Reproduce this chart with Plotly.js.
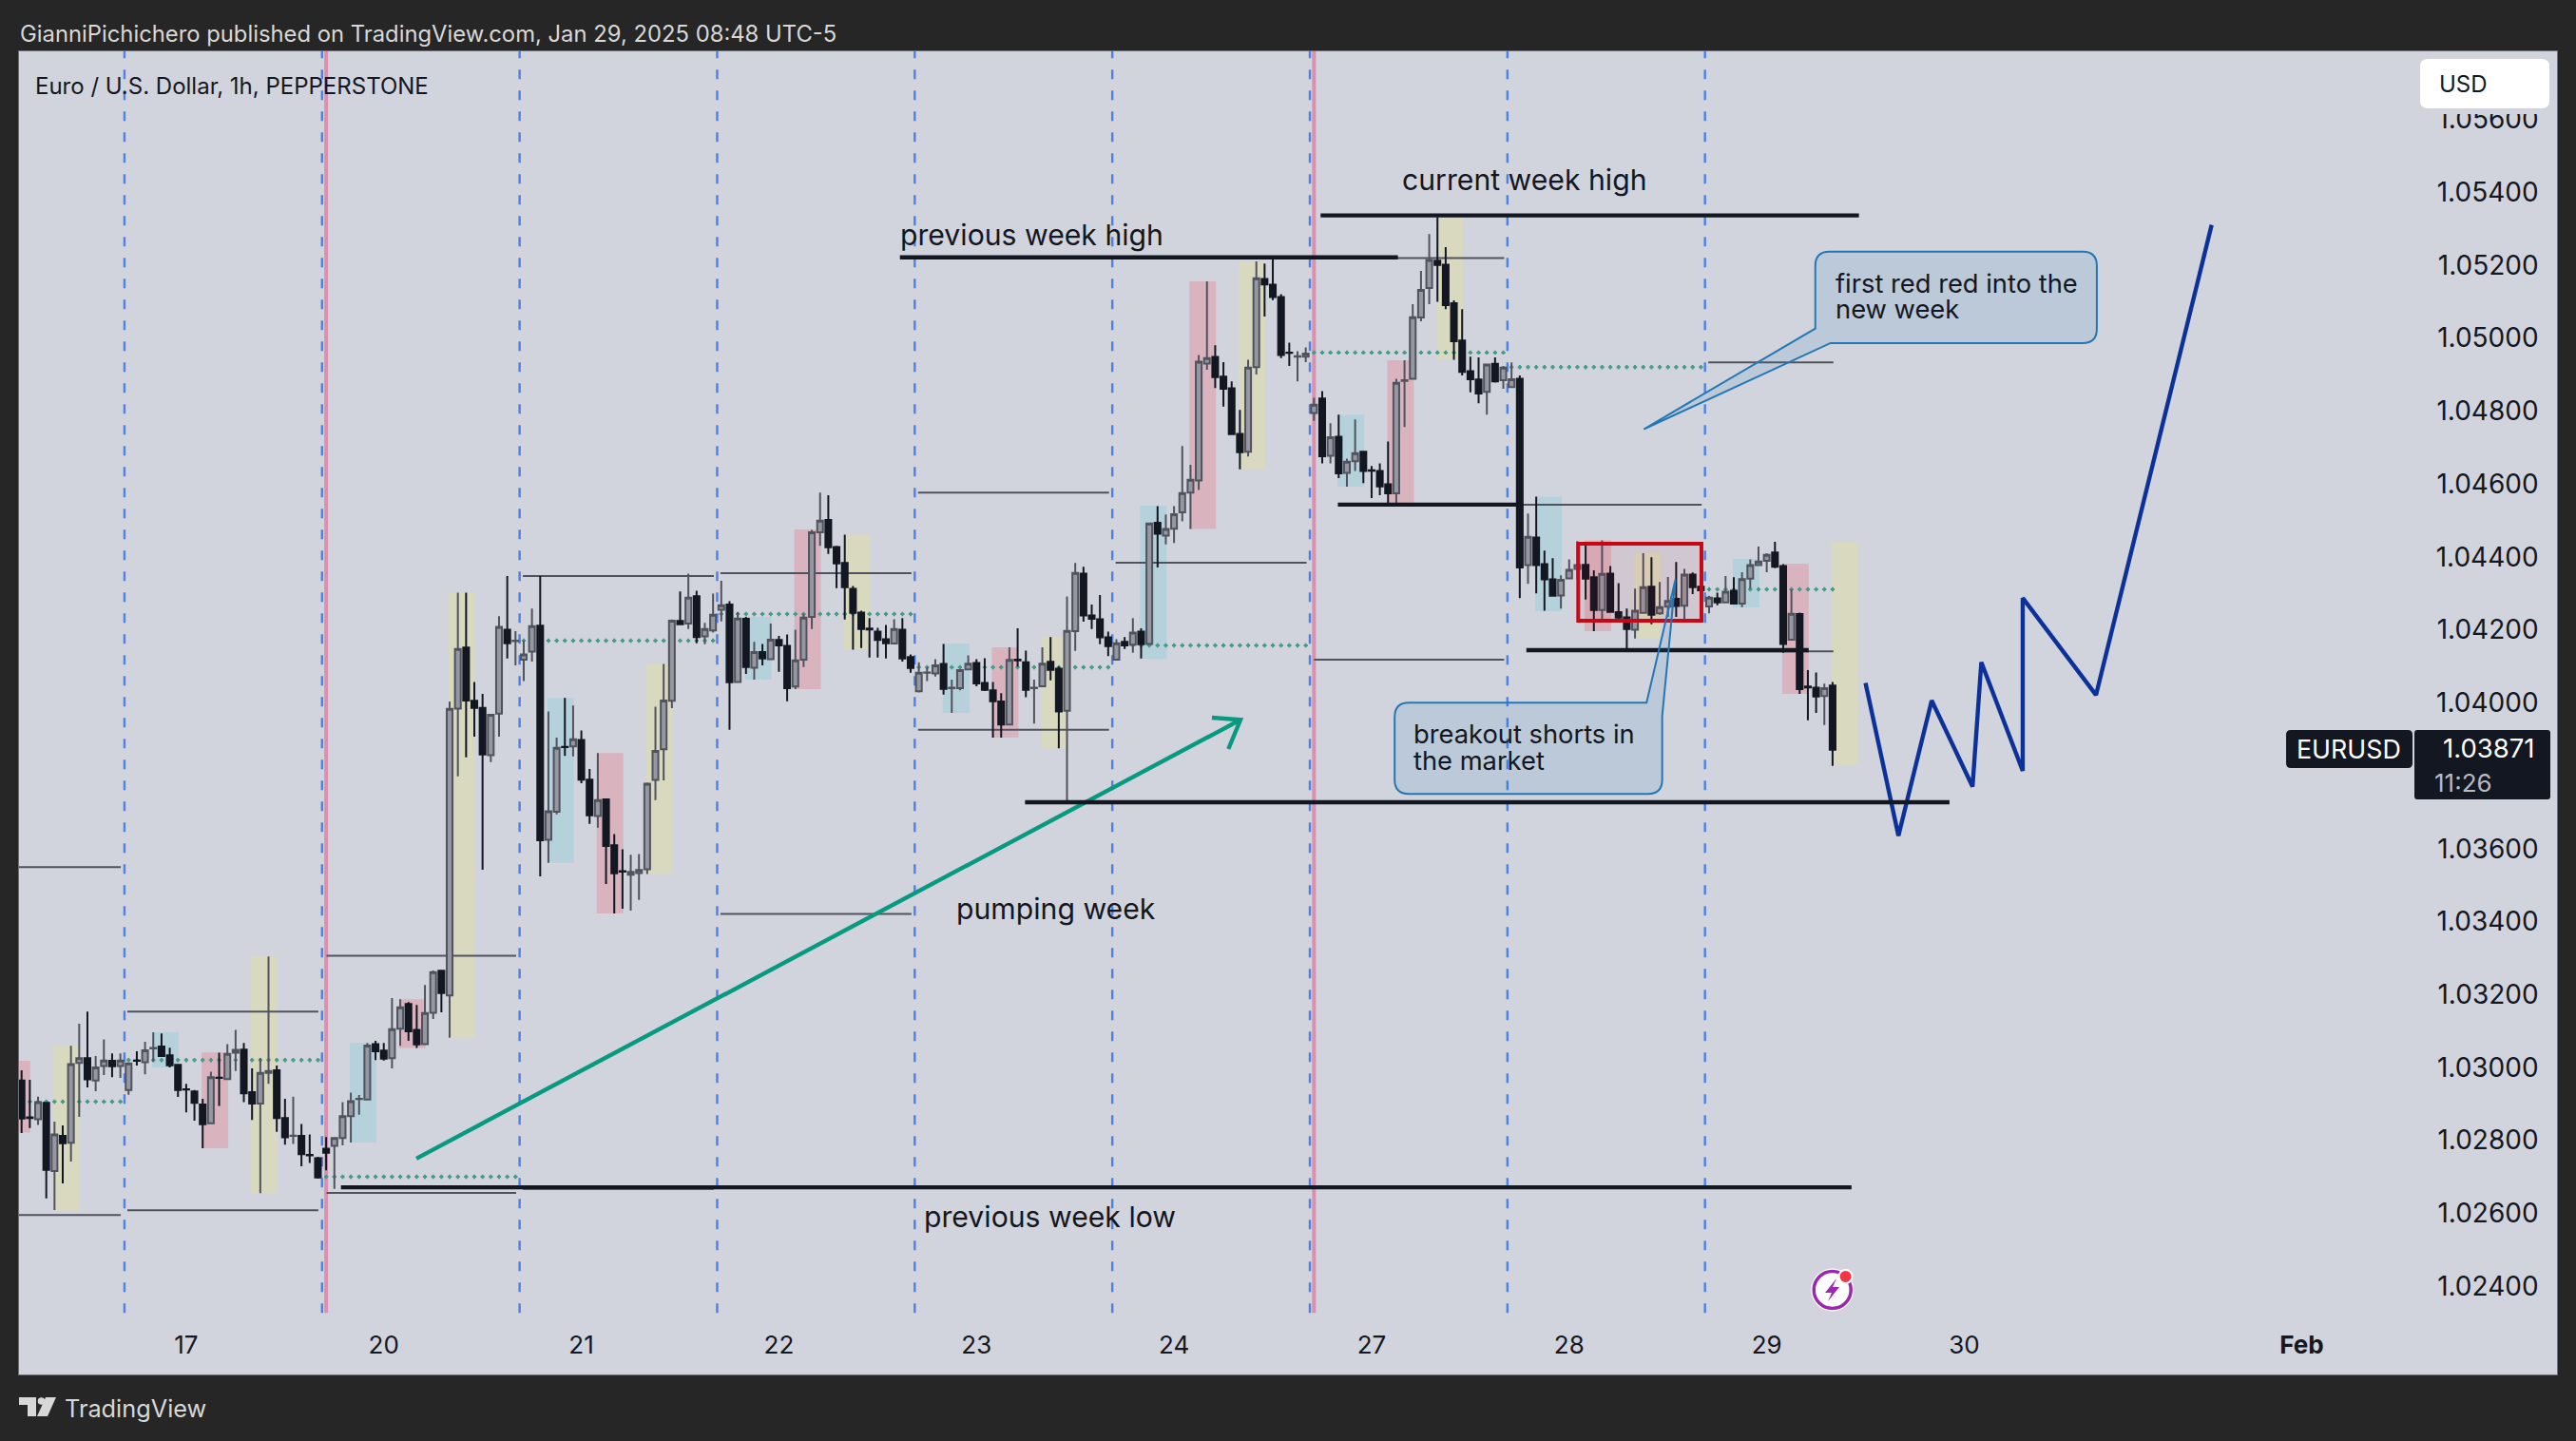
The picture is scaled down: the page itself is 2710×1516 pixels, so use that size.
<!DOCTYPE html>
<html>
<head>
<meta charset="utf-8">
<style>html,body{margin:0;padding:0;background:#262626;overflow:hidden}#chart{width:2710px;height:1516px}</style>
<script src="https://cdn.plot.ly/plotly-3.0.1.min.js"></script>
</head>
<body>
<div id="chart"></div>
<script>
const openP=[1.02964,1.02863,1.02858,1.02903,1.02716,1.02812,1.02793,1.03012,1.03025,1.02964,
1.03004,1.03018,1.03004,1.02938,1.03019,1.03014,1.03052,1.03057,1.03033,1.03007,
1.02940,1.02934,1.02898,1.02847,1.02972,1.02968,1.03040,1.03049,1.02932,1.02901,
1.02985,1.02992,1.02861,1.02812,1.02812,1.02760,1.02751,1.02777,1.02785,1.02806,
1.02866,1.02913,1.02912,1.03064,1.03046,1.03025,1.03106,1.03174,1.03103,1.03064,
1.03150,1.03265,1.03197,1.03984,1.04151,1.04005,1.03986,1.03856,1.03970,1.04200,
1.04169,1.04118,1.04140,1.04211,1.03624,1.03701,1.03879,1.03880,1.03898,1.03789,
1.03689,1.03735,1.03609,1.03538,1.03528,1.03533,1.03543,1.03788,1.03872,1.04005,
1.04224,1.04217,1.04292,1.04182,1.04198,1.04255,1.04269,1.04057,1.04230,1.04096,
1.04139,1.04119,1.04172,1.04156,1.04044,1.04118,1.04235,1.04467,1.04501,1.04427,
1.04383,1.04312,1.04247,1.04203,1.04195,1.04174,1.04162,1.04200,1.04125,1.04031,
1.04082,1.04080,1.04106,1.04040,1.04040,1.04091,1.04109,1.04054,1.04034,1.04003,
1.03940,1.04118,1.04111,1.04040,1.04045,1.04112,1.04093,1.03978,1.04196,1.04354,
1.04239,1.04229,1.04179,1.04118,1.04167,1.04159,1.04195,1.04161,1.04493,1.04458,
1.04477,1.04522,1.04576,1.04609,1.04930,1.04948,1.04894,1.04862,1.04737,1.04688,
1.04920,1.05162,1.05146,1.05112,1.04960,1.04949,1.04949,1.04794,1.04834,1.04677,
1.04729,1.04630,1.04662,1.04688,1.04637,1.04635,1.04599,1.04574,1.04882,1.04888,
1.05056,1.05137,1.05212,1.05201,1.05095,1.04993,1.04909,1.04886,1.04852,1.04929,
1.04884,1.04865,1.04888,1.04377,1.04453,1.04380,1.04338,1.04294,1.04341,1.04367,
1.04378,1.04344,1.04254,1.04354,1.04248,1.04234,1.04200,1.04246,1.04318,1.04245,
1.04263,1.04285,1.04266,1.04351,1.04318,1.04264,1.04286,1.04275,1.04307,1.04272,
1.04340,1.04377,1.04389,1.04412,1.04375,1.04173,1.04243,1.04044,1.04041,1.04018,
1.04047];
const highP=[1.02992,1.02966,1.02920,1.02905,1.02851,1.02841,1.03059,1.03120,1.03153,1.03031,
1.03077,1.03038,1.03038,1.03012,1.03044,1.03070,1.03096,1.03093,1.03054,1.03008,
1.02955,1.02938,1.02914,1.02988,1.03040,1.03064,1.03103,1.03067,1.02997,1.03025,
1.03304,1.03005,1.02914,1.02920,1.02845,1.02816,1.02755,1.02809,1.02807,1.02905,
1.02931,1.02924,1.03067,1.03073,1.03067,1.03190,1.03187,1.03179,1.03171,1.03226,
1.03266,1.03266,1.04003,1.04302,1.04302,1.04057,1.04024,1.03968,1.04237,1.04347,
1.04196,1.04170,1.04258,1.04347,1.03976,1.03904,1.04013,1.03992,1.03924,1.03818,
1.03862,1.03735,1.03640,1.03598,1.03583,1.03585,1.03781,1.03989,1.04106,1.04228,
1.04305,1.04354,1.04307,1.04219,1.04299,1.04334,1.04278,1.04248,1.04235,1.04167,
1.04161,1.04217,1.04183,1.04187,1.04200,1.04244,1.04474,1.04576,1.04569,1.04430,
1.04461,1.04320,1.04252,1.04232,1.04205,1.04213,1.04229,1.04232,1.04132,1.04111,
1.04098,1.04119,1.04161,1.04063,1.04092,1.04130,1.04119,1.04122,1.04057,1.04026,
1.04152,1.04204,1.04143,1.04063,1.04152,1.04180,1.04099,1.04291,1.04383,1.04373,
1.04269,1.04295,1.04195,1.04174,1.04180,1.04232,1.04204,1.04493,1.04539,1.04516,
1.04539,1.04704,1.04652,1.04953,1.05155,1.04980,1.04934,1.04881,1.04803,1.04940,
1.05210,1.05204,1.05223,1.05120,1.04987,1.04964,1.04974,1.04836,1.04854,1.04766,
1.04790,1.04669,1.04777,1.04690,1.04649,1.04656,1.04716,1.04888,1.04939,1.05093,
1.05184,1.05285,1.05331,1.05249,1.05103,1.05079,1.04949,1.04947,1.04929,1.04947,
1.04923,1.04933,1.04897,1.04519,1.04565,1.04417,1.04396,1.04349,1.04393,1.04443,
1.04432,1.04363,1.04445,1.04375,1.04328,1.04258,1.04313,1.04410,1.04399,1.04331,
1.04345,1.04386,1.04367,1.04357,1.04342,1.04293,1.04302,1.04347,1.04344,1.04358,
1.04393,1.04428,1.04410,1.04441,1.04380,1.04311,1.04247,1.04089,1.04083,1.04052,
1.04057];
const lowP=[1.02820,1.02834,1.02842,1.02641,1.02609,1.02682,1.02742,1.02864,1.02945,1.02935,
1.02979,1.02973,1.02971,1.02925,1.03005,1.02981,1.03016,1.03030,1.03000,1.02919,
1.02877,1.02854,1.02778,1.02846,1.02894,1.02966,1.02990,1.02905,1.02856,1.02655,
1.02955,1.02823,1.02788,1.02790,1.02729,1.02738,1.02695,1.02718,1.02667,1.02786,
1.02794,1.02870,1.02911,1.03020,1.03019,1.02997,1.03059,1.03073,1.03053,1.03063,
1.03133,1.03151,1.03081,1.03798,1.03850,1.03907,1.03542,1.03837,1.03907,1.04121,
1.04102,1.04059,1.04113,1.03524,1.03561,1.03694,1.03854,1.03853,1.03779,1.03668,
1.03657,1.03503,1.03422,1.03435,1.03430,1.03459,1.03530,1.03733,1.03787,1.03985,
1.04215,1.04202,1.04163,1.04160,1.04192,1.04223,1.03926,1.04056,1.04079,1.04063,
1.04102,1.04118,1.04085,1.04004,1.04037,1.04098,1.04202,1.04430,1.04408,1.04314,
1.04228,1.04145,1.04150,1.04124,1.04124,1.04121,1.04160,1.04113,1.04082,1.04028,
1.04059,1.04072,1.04022,1.03972,1.04034,1.04090,1.04045,1.04032,1.03904,1.03904,
1.03940,1.04099,1.04015,1.03943,1.04044,1.04061,1.03875,1.03729,1.04142,1.04222,
1.04202,1.04160,1.04128,1.04117,1.04147,1.04137,1.04121,1.04160,1.04371,1.04434,
1.04438,1.04497,1.04476,1.04583,1.04913,1.04863,1.04812,1.04736,1.04640,1.04675,
1.04900,1.05059,1.05104,1.04945,1.04923,1.04881,1.04934,1.04773,1.04656,1.04656,
1.04616,1.04592,1.04635,1.04602,1.04561,1.04569,1.04545,1.04545,1.04756,1.04887,
1.05046,1.05093,1.05099,1.05079,1.04940,1.04897,1.04851,1.04821,1.04790,1.04878,
1.04861,1.04864,1.04287,1.04326,1.04300,1.04252,1.04293,1.04258,1.04340,1.04338,
1.04283,1.04196,1.04228,1.04248,1.04228,1.04149,1.04176,1.04244,1.04215,1.04241,
1.04235,1.04235,1.04228,1.04298,1.04302,1.04245,1.04267,1.04273,1.04271,1.04262,
1.04313,1.04376,1.04358,1.04369,1.04137,1.04172,1.04024,1.03952,1.03972,1.03939,
1.03827];
const closeP=[1.02860,1.02861,1.02905,1.02719,1.02816,1.02792,1.03009,1.03025,1.02967,1.03000,
1.03019,1.03003,1.03019,1.03011,1.03018,1.03047,1.03053,1.03031,1.03006,1.02938,
1.02939,1.02903,1.02844,1.02973,1.02971,1.03037,1.03048,1.02929,1.02901,1.02985,
1.02990,1.02861,1.02808,1.02813,1.02762,1.02759,1.02698,1.02766,1.02806,1.02866,
1.02907,1.02914,1.03060,1.03044,1.03024,1.03105,1.03165,1.03099,1.03063,1.03149,
1.03261,1.03204,1.03983,1.04147,1.04006,1.03986,1.03858,1.03967,1.04208,1.04163,
1.04170,1.04132,1.04210,1.03623,1.03702,1.03876,1.03878,1.03900,1.03789,1.03691,
1.03733,1.03607,1.03532,1.03537,1.03536,1.03541,1.03778,1.03868,1.04006,1.04225,
1.04215,1.04288,1.04180,1.04202,1.04241,1.04267,1.04056,1.04231,1.04098,1.04139,
1.04121,1.04173,1.04157,1.04040,1.04116,1.04233,1.04467,1.04499,1.04426,1.04382,
1.04317,1.04246,1.04202,1.04201,1.04172,1.04163,1.04202,1.04121,1.04095,1.04082,
1.04083,1.04102,1.04038,1.04041,1.04089,1.04107,1.04053,1.04035,1.04004,1.03940,
1.04117,1.04116,1.04035,1.04041,1.04107,1.04090,1.03976,1.04197,1.04356,1.04239,
1.04230,1.04179,1.04155,1.04163,1.04157,1.04192,1.04160,1.04491,1.04463,1.04476,
1.04517,1.04575,1.04611,1.04935,1.04945,1.04893,1.04861,1.04736,1.04687,1.04919,
1.05164,1.05147,1.05112,1.04953,1.04959,1.04950,1.04957,1.04817,1.04676,1.04728,
1.04629,1.04661,1.04684,1.04635,1.04636,1.04593,1.04574,1.04877,1.04884,1.05057,
1.05132,1.05214,1.05200,1.05090,1.04991,1.04907,1.04887,1.04848,1.04927,1.04881,
1.04919,1.04887,1.04371,1.04455,1.04377,1.04338,1.04293,1.04337,1.04364,1.04377,
1.04340,1.04254,1.04353,1.04249,1.04233,1.04202,1.04252,1.04317,1.04241,1.04262,
1.04279,1.04265,1.04351,1.04317,1.04308,1.04288,1.04275,1.04304,1.04272,1.04339,
1.04377,1.04387,1.04405,1.04373,1.04161,1.04244,1.04037,1.04042,1.04017,1.04040,
1.03871];

const dayTickBars=[20,44,68,92,116,140,164,188,212,236,277];
const dayTickText=['17','20','21','22','23','24','27','28','29','30','<b>Feb</b>'];
const priceTicks=[1.024,1.026,1.028,1.030,1.032,1.034,1.036,1.038,1.040,1.042,1.044,1.046,1.048,1.050,1.052,1.054,1.056];

const sessionLines=[12.5,36.5,60.5,84.5,108.5,132.5,156.5,180.5,204.5];
const weekLines=[37,157];

// [bar from, bar to, price top, price bottom, kind]
const highlightBoxes=[
[-0.4,1.06,1.03018,1.02821,'p'],[3.87,7.08,1.03059,1.02609,'y'],[15.87,19.08,1.03096,1.03000,'b'],
[21.87,25.1,1.03041,1.02778,'p'],[27.87,31.08,1.03304,1.02655,'y'],[39.87,43.1,1.03067,1.02794,'b'],
[45.87,49.1,1.03187,1.03053,'p'],[51.87,55.08,1.04302,1.03080,'y'],[63.87,67.1,1.04013,1.03561,'b'],
[69.87,73.1,1.03862,1.03422,'p'],[75.87,79.1,1.04106,1.03529,'y'],[87.87,91.1,1.04235,1.04063,'b'],
[93.87,97.1,1.04475,1.04037,'p'],[99.87,103.1,1.04461,1.04144,'y'],[111.9,115.15,1.04162,1.03972,'b'],
[117.87,121.1,1.04152,1.03904,'p'],[123.87,127.1,1.04180,1.03874,'y'],[135.87,139.1,1.04540,1.04120,'b'],
[141.87,145.1,1.05155,1.04476,'p'],[147.87,151.1,1.05210,1.04640,'y'],[159.87,163.1,1.04790,1.04592,'b'],
[165.9,169.13,1.04939,1.04543,'p'],[171.9,175.1,1.05331,1.04941,'y'],[183.87,187.1,1.04565,1.04251,'b'],
[189.87,193.1,1.04445,1.04196,'p'],[195.87,199.1,1.04410,1.04175,'y'],[207.87,211.1,1.04394,1.04261,'b'],
[213.87,217.1,1.04381,1.04024,'p'],[219.87,223.1,1.04441,1.03827,'y']];
const boxColors={p:'#d9b4bf',y:'#d9d9c0',b:'#b5d2dc'};

// [bar from, bar to, price]
const priorDayLevels=[
[-0.4,12.05,1.03549],[-0.4,12.05,1.02595],[12.85,36.05,1.03153],[12.85,36.05,1.02608],
[37.05,60.08,1.03306],[37.05,60.08,1.02656],[60.9,84.1,1.04347],[60.9,84.1,1.02667],
[84.9,108.1,1.04355],[84.9,108.1,1.03421],[108.9,132.1,1.04576],[108.9,132.1,1.03926],
[132.9,156.1,1.04384],[132.9,156.1,1.03729],[157,180.1,1.05219],[157,180.1,1.04118],
[181,204.1,1.05336],[181,204.1,1.04543],[204.9,220.1,1.04933],[204.9,220.1,1.04141]];

const midLevels=[[1,12,1.02906],[13,36,1.03020],[37,60,1.02700],[61,84,1.04170],[85,108,1.04243],
[109,132,1.04097],[133,156,1.04157],[157,180,1.04960],[181,204,1.04920],[205,220,1.04311]];

const keyLevels=[[106.7,167.2,1.05221],[157.8,223.2,1.05336],[159.9,181.8,1.04543],
[182.8,217.1,1.04144],[121.9,234.2,1.03727],[38.8,222.3,1.02671]];

const pathBars=[224,228,232.04,237,238.07,243.1,243.1,252,266.05];
const pathPrices=[1.04054,1.03635,1.04006,1.03770,1.04111,1.03813,1.04287,1.04021,1.05310];

const arrowBars=[47.96,148.07,null,144.6,148.07,146.6];
const arrowPrices=[1.02750,1.03953,null,1.03959,1.03953,1.03873];

const redBox=[189.1,204.07,1.04436,1.04225];

const labels=[
['current week high',182.55,1.05435,'center',30.2],
['previous week high',122.67,1.05283,'center',30.2],
['pumping week',125.67,1.03436,'center',30.2],
['previous week low',124.86,1.02590,'center',30.2],
['first red red into the',220.24,1.05150,'left',27.3],
['new week',220.24,1.05079,'left',27.3],
['breakout shorts in',169.0,1.03914,'left',27.3],
['the market',169.0,1.03841,'left',27.3]];

const INK='#131722',GREY='#50535e',CHROME='#d8d8d8';
const P={L:20,R:2690,T:54,B:1446};
const xp=v=>(v-P.L)/(P.R-P.L), yp=v=>1-(v-P.T)/(P.B-P.T);
const yTop=1.05786,yBot=1.02158,paneBottom=1.02327;
const barDX=0.25,priceDY=2.2/38367;

const shapes=[];
highlightBoxes.forEach(b=>shapes.push({type:'rect',layer:'below',xref:'x',yref:'y',x0:b[0],x1:b[1],y0:b[3],y1:b[2],fillcolor:boxColors[b[4]],line:{width:0}}));
sessionLines.forEach(v=>shapes.push({type:'line',layer:'below',xref:'x',yref:'y',x0:v,x1:v,y0:paneBottom,y1:yTop,line:{color:'#4a82e8',width:2.4,dash:'10px,12px'}}));
weekLines.forEach(v=>shapes.push({type:'line',layer:'below',xref:'x',yref:'y',x0:v,x1:v,y0:paneBottom,y1:yTop,line:{color:'#dd8fb0',width:4}}));
priorDayLevels.forEach(l=>shapes.push({type:'line',layer:'below',xref:'x',yref:'y',x0:l[0],x1:l[1],y0:l[2],y1:l[2],line:{color:GREY,width:2}}));
midLevels.forEach(l=>{
  let d='';
  for(let i=l[0];i<=l[1];i++){
    d+=`M${i-barDX},${l[2]}L${i+barDX},${l[2]}M${i},${l[2]-priceDY}L${i},${l[2]+priceDY}`;
  }
  shapes.push({type:'path',layer:'below',xref:'x',yref:'y',path:d,line:{color:'#459a85',width:2}});
});
keyLevels.forEach(l=>shapes.push({type:'line',layer:'above',xref:'x',yref:'y',x0:l[0],x1:l[1],y0:l[2],y1:l[2],line:{color:INK,width:4.4}}));
shapes.push({type:'rect',layer:'above',xref:'x',yref:'y',x0:redBox[0],x1:redBox[1],y0:redBox[3],y1:redBox[2],fillcolor:'rgba(204,0,20,0.06)',line:{color:'#c80815',width:4}});

// callouts
const rx=1.73,ry=0.00039;
const calloutFill='rgba(33,120,190,0.12)',calloutLine='#2477b5';
{
  const L=217.9,R=252.1,T=1.05237,B=1.04986;
  shapes.push({type:'path',layer:'above',xref:'x',yref:'y',fillcolor:calloutFill,line:{color:calloutLine,width:2},
   path:`M${L+rx},${T}L${R-rx},${T}Q${R},${T} ${R},${T-ry}L${R},${B+ry}Q${R},${B} ${R-rx},${B}L219.75,${B}L197.07,1.04750L${L},1.05026L${L},${T-ry}Q${L},${T} ${L+rx},${T}Z`});
}
{
  const L=166.8,R=199.3,T=1.04000,B=1.03750;
  shapes.push({type:'path',layer:'above',xref:'x',yref:'y',fillcolor:calloutFill,line:{color:calloutLine,width:2},
   path:`M${L+rx},${T}L197.4,${T}L200.9,1.04337L${R},1.03963L${R},${B+ry}Q${R},${B} ${R-rx},${B}L${L+rx},${B}Q${L},${B} ${L},${B+ry}L${L},${T-ry}Q${L},${T} ${L+rx},${T}Z`});
}

// chrome drawn in page pixels
function chromeRect(x0,x1,y0,y1,fill){return {type:'rect',layer:'above',xref:'paper',yref:'paper',x0:xp(x0),x1:xp(x1),y0:yp(y1),y1:yp(y0),fillcolor:fill,line:{width:0}};}
function chromePath(pts,fill){return {type:'path',layer:'above',xref:'paper',yref:'paper',fillcolor:fill,line:{width:0},
  path:'M'+pts.map(p=>xp(p[0])+','+yp(p[1])).join('L')+'Z'};}
function rounded(x0,x1,y0,y1,r,fill){
  const X=xp,Y=yp;
  return {type:'path',layer:'above',xref:'paper',yref:'paper',fillcolor:fill,line:{width:0},
  path:`M${X(x0+r)},${Y(y0)}L${X(x1-r)},${Y(y0)}Q${X(x1)},${Y(y0)} ${X(x1)},${Y(y0+r)}L${X(x1)},${Y(y1-r)}Q${X(x1)},${Y(y1)} ${X(x1-r)},${Y(y1)}L${X(x0+r)},${Y(y1)}Q${X(x0)},${Y(y1)} ${X(x0)},${Y(y1-r)}L${X(x0)},${Y(y0+r)}Q${X(x0)},${Y(y0)} ${X(x0+r)},${Y(y0)}Z`};
}
shapes.push(chromeRect(2544,2684,60,120,'#d1d4dc'));
shapes.push(rounded(2546,2682,62,114,8,'#ffffff'));
shapes.push(rounded(2405,2538,768,808,5,INK));
shapes.push(rounded(2540,2683,768,841,3,INK));
// alert badge
function circle(cx,cy,r,fill,lineColor,lw){return {type:'circle',layer:'above',xref:'paper',yref:'paper',x0:xp(cx-r),x1:xp(cx+r),y0:yp(cy+r),y1:yp(cy-r),fillcolor:fill,line:{color:lineColor||fill,width:lw||0}};}
shapes.push(circle(1927.7,1357,22.5,'#ffffff'));
shapes.push(circle(1927.7,1357,19.5,'#ffffff','#9c27b0',3.5));
shapes.push(chromePath([[1932,1345],[1920,1360],[1927,1360],[1923,1369],[1935,1354],[1928,1354]],'#9c27b0'));
shapes.push(circle(1941.6,1343,8,'#ffffff'));
shapes.push(circle(1941.6,1343,6,'#f23645'));
// logo
shapes.push(chromePath([[20,1470],[38,1470],[38,1490],[29,1490],[29,1478],[20,1478]],CHROME));
shapes.push(circle(43.5,1474,3.8,CHROME));
shapes.push(chromePath([[48,1470],[59,1470],[50,1490],[39,1490]],CHROME));

const annotations=labels.map(l=>({xref:'x',yref:'y',x:l[1],y:l[2],text:l[0],showarrow:false,xanchor:l[3],yanchor:'middle',
  font:{family:'Inter',size:l[4],color:INK},borderpad:0}));
function chromeText(text,x,y,size,color,anchor,weight){
  annotations.push({xref:'paper',yref:'paper',x:xp(x),y:yp(y),text,showarrow:false,xanchor:anchor||'left',yanchor:'middle',borderpad:0,
    font:{family:'Inter',size,color,weight:weight||400}});
}
chromeText('GianniPichichero published on TradingView.com, Jan 29, 2025 08:48 UTC-5',20,35,23.8,CHROME);
chromeText('Euro / U.S. Dollar, 1h, PEPPERSTONE',36,90,24,INK);
chromeText('USD',2565,88,24,INK);
chromeText('EURUSD',2471,788,26.8,'#ffffff','center');
chromeText('1.03871',2668,787,27.5,'#ffffff','right');
chromeText('11:26',2560,823,26,'#b8bac0');
chromeText('TradingView',67,1481,25.3,CHROME);

const bars=openP.map((_,i)=>i);
const data=[
 {type:'candlestick',x:bars,open:openP,high:highP,low:lowP,close:closeP,hoverinfo:'skip',whiskerwidth:0,showlegend:false,
  increasing:{line:{color:GREY,width:2},fillcolor:'#9598a1'},
  decreasing:{line:{color:INK,width:2},fillcolor:INK}},
 {type:'scatter',mode:'lines',x:arrowBars,y:arrowPrices,line:{color:'#089981',width:4.4},hoverinfo:'skip',showlegend:false},
 {type:'scatter',mode:'lines',x:pathBars,y:pathPrices,line:{color:'#0c3299',width:4.4},hoverinfo:'skip',showlegend:false}
];
const layout={
 width:2710,height:1516,autosize:false,
 margin:{l:P.L,r:2710-P.R,t:P.T,b:1516-P.B,pad:0},
 paper_bgcolor:'#262626',plot_bgcolor:'#d1d4dc',showlegend:false,
 font:{family:'Inter',color:INK},
 boxgap:0.3,boxgroupgap:0,
 xaxis:{type:'linear',range:[-0.312,308.0],showgrid:false,zeroline:false,rangeslider:{visible:false},
  tickmode:'array',tickvals:dayTickBars,ticktext:dayTickText,ticks:'',ticklabelposition:'inside',ticklabelstandoff:19,ticklabeloverflow:'allow',
  tickfont:{family:'Inter',size:26,color:INK},showline:true,mirror:true,linecolor:'#6e7076',linewidth:1},
 yaxis:{type:'linear',side:'right',range:[yBot,yTop],showgrid:false,zeroline:false,
  tickmode:'array',tickvals:priceTicks,ticktext:priceTicks.map(v=>v.toFixed(5)),ticks:'',ticklabelposition:'inside',ticklabelstandoff:22,ticklabeloverflow:'allow',
  tickfont:{family:'Inter',size:28,color:INK},showline:true,mirror:true,linecolor:'#6e7076',linewidth:1},
 shapes,annotations
};
Plotly.newPlot('chart',data,layout,{displayModeBar:false,staticPlot:true});
</script>
</body>
</html>
